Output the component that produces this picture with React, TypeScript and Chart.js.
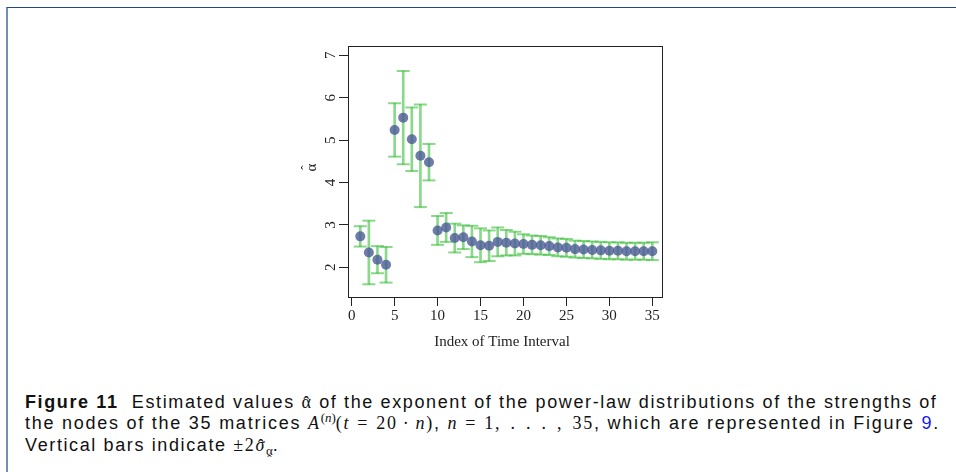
import React, { useEffect, useRef } from "react";
import { Chart, registerables } from "chart.js";

Chart.register(...registerables);

const indices = [1,2,3,4,5,6,7,8,9,10,11,12,13,14,15,16,17,18,19,20,21,22,23,24,25,26,27,28,29,30,31,32,33,34,35];
const alphaHat = [2.73,2.35,2.18,2.06,5.24,5.53,5.02,4.63,4.48,2.87,2.94,2.69,2.71,2.61,2.52,2.51,2.60,2.58,2.56,2.55,2.53,2.52,2.50,2.47,2.46,2.43,2.42,2.41,2.40,2.39,2.39,2.38,2.38,2.38,2.38];
const twoSigma = [0.24,0.75,0.32,0.42,0.63,1.10,0.75,1.21,0.43,0.34,0.34,0.34,0.28,0.37,0.40,0.36,0.34,0.30,0.28,0.23,0.22,0.22,0.21,0.21,0.21,0.20,0.20,0.20,0.20,0.20,0.20,0.20,0.20,0.20,0.21];
const xTicks = [0,5,10,15,20,25,30,35];
const yTicks = [2,3,4,5,6,7];
const xTitle = "Index of Time Interval";
const yTitleBase = "\u03B1";
const hatChar = "\u02C6";

const SERIF = "'Liberation Serif', 'Times New Roman', serif";
const GREEN = "rgba(60,190,60,0.6)";
const BLUE = "rgba(75,90,150,0.8)";

function Hat({ ch, italic }: { ch: string; italic?: boolean }) {
  return (
    <span style={{ position: "relative", display: "inline-block", fontFamily: SERIF, fontStyle: italic ? "italic" : "normal" }}>
      {ch}
      <span
        style={{
          position: "absolute",
          left: italic ? "0.08em" : 0,
          right: 0,
          top: "0.12em",
          lineHeight: 1,
          textAlign: "center",
          fontStyle: "normal",
        }}
      >
        {hatChar}
      </span>
    </span>
  );
}

export default function App() {
  const ref = useRef<HTMLCanvasElement | null>(null);

  useEffect(() => {
    document.body.style.margin = "0";
    const canvas = ref.current;
    if (!canvas) return;

    const lo = alphaHat.map((a, i) => a - twoSigma[i]);
    const hi = alphaHat.map((a, i) => a + twoSigma[i]);

    const framePlugin = {
      id: "rframe",
      afterDraw(chart: any) {
        const { ctx, chartArea, scales } = chart;
        ctx.save();
        ctx.strokeStyle = "#222";
        ctx.lineWidth = 1;
        ctx.strokeRect(
          Math.round(chartArea.left) + 0.5,
          Math.round(chartArea.top) + 0.5,
          Math.round(chartArea.right - chartArea.left),
          Math.round(chartArea.bottom - chartArea.top)
        );
        ctx.fillStyle = "#222";
        ctx.font = `15px ${SERIF}`;
        ctx.textAlign = "center";
        ctx.textBaseline = "middle";
        const ys = scales.y;
        yTicks.forEach((v) => {
          const py = ys.getPixelForValue(v);
          ctx.save();
          ctx.translate(chartArea.left - 17, py);
          ctx.rotate(-Math.PI / 2);
          ctx.fillText(String(v), 0, 0);
          ctx.restore();
        });
        ctx.save();
        ctx.translate(chartArea.left - 37, (chartArea.top + chartArea.bottom) / 2 - 4);
        ctx.rotate(-Math.PI / 2);
        ctx.fillText(yTitleBase, 0, 1);
        ctx.font = `13px ${SERIF}`;
        ctx.fillText(hatChar, 0, -4);
        ctx.restore();
        ctx.font = `15px ${SERIF}`;
        const xs = scales.x;
        const cx = (xs.getPixelForValue(xTicks[0]) + xs.getPixelForValue(xTicks[xTicks.length - 1])) / 2;
        ctx.fillText(xTitle, cx, chartArea.bottom + 45);
        ctx.restore();
      },
    };

    const chart = new Chart(canvas, {
      type: "scatter",
      data: {
        datasets: [
          {
            type: "scatter",
            label: "alpha",
            data: indices.map((x, i) => ({ x, y: alphaHat[i] })),
            backgroundColor: BLUE,
            borderWidth: 0,
            pointRadius: 5,
            order: 0,
          } as any,
          {
            type: "scatter",
            label: "capHi",
            data: indices.map((x, i) => ({ x, y: hi[i] })),
            pointStyle: "line",
            pointRadius: 6.5,
            borderColor: GREEN,
            borderWidth: 2,
            order: 1,
          } as any,
          {
            type: "scatter",
            label: "capLo",
            data: indices.map((x, i) => ({ x, y: lo[i] })),
            pointStyle: "line",
            pointRadius: 6.5,
            borderColor: GREEN,
            borderWidth: 2,
            order: 1,
          } as any,
          {
            type: "bar",
            label: "bars",
            data: indices.map((x, i) => ({ x, y: [lo[i], hi[i]] })),
            backgroundColor: GREEN,
            borderWidth: 0,
            barThickness: 2,
            grouped: false,
            order: 2,
          } as any,
        ],
      },
      options: {
        animation: false,
        responsive: false,
        devicePixelRatio: 1,
        events: [],
        layout: { padding: { top: 16, right: 38, left: 0, bottom: 0 } },
        plugins: { legend: { display: false }, tooltip: { enabled: false } },
        scales: {
          x: {
            type: "linear",
            min: -0.43,
            max: 36.13,
            offset: false,
            afterBuildTicks: (s: any) => {
              s.ticks = xTicks.map((v) => ({ value: v }));
            },
            afterFit: (s: any) => {
              s.height = 73;
            },
            grid: {
              display: true,
              offset: false,
              drawOnChartArea: false,
              drawTicks: true,
              tickLength: 9,
              color: "#222",
              lineWidth: 1,
            },
            border: { display: false },
            ticks: {
              autoSkip: false,
              maxRotation: 0,
              minRotation: 0,
              padding: 1,
              color: "#222",
              font: { family: SERIF, size: 15 },
              callback: (v: any) => String(v),
            },
          },
          y: {
            type: "linear",
            min: 1.3,
            max: 7.22,
            afterBuildTicks: (s: any) => {
              s.ticks = yTicks.map((v) => ({ value: v }));
            },
            afterFit: (s: any) => {
              s.width = 68;
            },
            grid: {
              display: true,
              offset: false,
              drawOnChartArea: false,
              drawTicks: true,
              tickLength: 9,
              color: "#222",
              lineWidth: 1,
            },
            border: { display: false },
            ticks: { display: false },
          },
        },
      } as any,
      plugins: [framePlugin],
    });
    return () => chart.destroy();
  }, []);

  const math: React.CSSProperties = { fontFamily: SERIF, fontStyle: "italic" };
  const rm: React.CSSProperties = { fontFamily: SERIF };
  const rel: React.CSSProperties = { margin: "0 7px" };

  return (
    <div style={{ position: "relative", width: 956, height: 472, background: "#fff", overflow: "hidden" }}>
      <div
        style={{
          position: "absolute",
          left: 6,
          top: 7,
          right: -4,
          bottom: -4,
          borderTop: "1.5px solid #1f4a7a",
          borderLeft: "2px solid #6f8fb5",
        }}
      />
      <canvas
        ref={ref}
        width={420}
        height={340}
        style={{ position: "absolute", left: 280, top: 30, width: 420, height: 340 }}
      />
      <div
        style={{
          position: "absolute",
          left: 25,
          top: 392,
          fontFamily: "'Liberation Sans', Arial, sans-serif",
          fontSize: 18,
          letterSpacing: "1.62px",
          lineHeight: "21.3px",
          color: "#111",
          whiteSpace: "nowrap",
        }}
      >
        <div>
          <b>Figure 11</b>&nbsp; Estimated values <Hat ch={"\u03B1"} /> of the exponent of the power-law distributions of the strengths of
        </div>
        <div style={{ letterSpacing: "1.75px" }}>
          the nodes of the 35 matrices <span style={math}>A</span>
          <sup style={{ ...rm, fontSize: 13, lineHeight: 0, letterSpacing: 0 }}>
            (<i>n</i>)
          </sup>
          <span style={rm}>
            (<i>t</i>
            <span style={rel}>=</span>20<span style={{ margin: "0 5px" }}>·</span>
            <i>n</i>)
          </span>
          , <span style={math}>n</span>
          <span style={{ ...rm, wordSpacing: "3px" }}>
            <span style={rel}>=</span>1, . . . , 35
          </span>
          , which are represented in Figure <span style={{ color: "#1a1aee" }}>9</span>.
        </div>
        <div>
          Vertical bars indicate <span style={rm}>±2</span>
          <Hat ch={"\u03C3"} italic />
          <sub style={{ fontSize: 13, lineHeight: 0, letterSpacing: 0 }}>
            <Hat ch={"\u03B1"} />
          </sub>
          .
        </div>
      </div>
    </div>
  );
}
